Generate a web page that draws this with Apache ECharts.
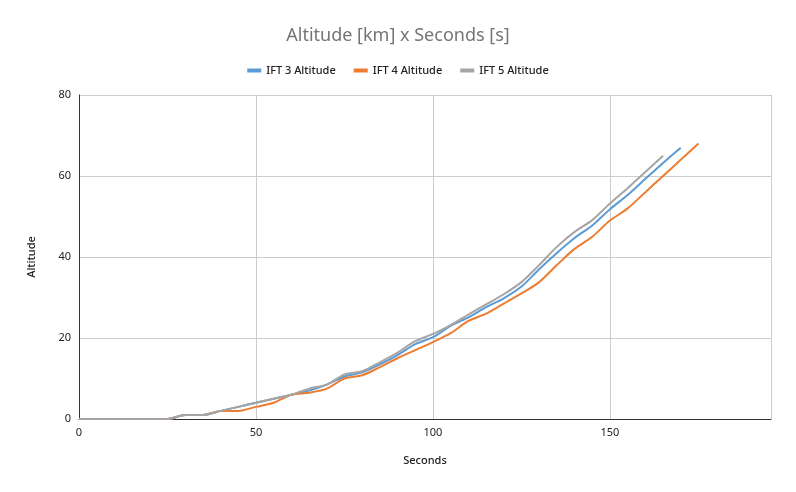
<!DOCTYPE html>
<html>
<head>
<meta charset="utf-8">
<script src="https://cdn.jsdelivr.net/npm/echarts@6/dist/echarts.min.js"></script>
<style>html,body{margin:0;padding:0;background:#fff}#c{width:796px;height:492px}</style>
</head>
<body>
<div id="c"></div>
<script>
const seconds = [0,5,10,15,20,25,30,35,40,45,50,55,60,65,70,75,80,85,90,95,100,105,110,115,120,125,130,135,140,145,150,155,160,165,170,175];
const ift3 = [0,0,0,0,0,0,1,1,2,3,4,5,6,7,8.5,10.5,11.5,13.5,15.8,18.5,20.2,23,25.1,27.6,29.8,32.7,37,41,44.7,47.8,51.8,55.3,59.3,63.2,67];
const ift4 = [0,0,0,0,0,0,1,1,2,2,3,4,6,6.5,7.5,10,10.8,12.8,15,17,19,21.2,24.2,26,28.5,31,33.8,38,42,45,49,52,56,60,64,68];
const ift5 = [0,0,0,0,0,0,1,1,2,3,4,5,6,7.5,8.5,11,11.8,14,16.4,19.2,21,23.2,25.8,28.3,30.8,33.8,38,42.5,46.2,49.1,53.2,57,61,65];
const xTicks = [0,50,100,150];
const yTicks = [0,20,40,60,80];
const seriesNames = ['IFT 3 Altitude','IFT 4 Altitude','IFT 5 Altitude'];
const colors = ['#5B9BD5','#ED7D31','#A5A5A5'];

function pairs(vals){ return vals.map((v,i)=>[seconds[i], v]); }

const font = 'Noto Sans, Open Sans, sans-serif';
const chart = echarts.init(document.getElementById('c'));
chart.setOption({
  animation:false,
  color: colors,
  title:{text:'Altitude [km] x Seconds [s]', left:'center', top:22,
    textStyle:{fontFamily:font, fontSize:18, fontWeight:'normal', color:'#757575'}},
  legend:{top:60, left:'center', itemWidth:14, itemHeight:4, itemGap:18, icon:'rect',
    textStyle:{fontFamily:font, fontSize:11, color:'#222', fontWeight:500},
    data: seriesNames},
  grid:{left:79, right:25, top:95, bottom:73},
  xAxis:{type:'value', min:0, max:195.5, interval:50, name:'Seconds', nameLocation:'middle', nameGap:36,
    nameTextStyle:{fontFamily:font, fontSize:11, color:'#222', fontWeight:500},
    axisLine:{lineStyle:{color:'#333', width:1}}, axisTick:{show:false},
    axisLabel:{fontFamily:font, fontSize:11, color:'#222', margin:8,
      formatter:v=> xTicks.includes(v)? String(v):''},
    splitLine:{show:true, lineStyle:{color:'#ccc'}}},
  yAxis:{type:'value', min:0, max:80, interval:20, name:'Altitude', nameLocation:'middle', nameGap:42, nameRotate:90,
    nameTextStyle:{fontFamily:font, fontSize:11, color:'#222', fontWeight:500},
    axisLine:{show:true, lineStyle:{color:'#333', width:1}}, axisTick:{show:false},
    axisLabel:{fontFamily:font, fontSize:11, color:'#222', margin:8,
      formatter:v=> yTicks.includes(v)? String(v):''},
    splitLine:{show:true, lineStyle:{color:'#ccc'}}},
  series:[
    {name:seriesNames[0], type:'line', data:pairs(ift3), showSymbol:false, smooth:0.3, lineStyle:{width:2}},
    {name:seriesNames[1], type:'line', data:pairs(ift4), showSymbol:false, smooth:0.3, lineStyle:{width:2}},
    {name:seriesNames[2], type:'line', data:pairs(ift5), showSymbol:false, smooth:0.3, lineStyle:{width:2}}
  ]
});
</script>
</body>
</html>
